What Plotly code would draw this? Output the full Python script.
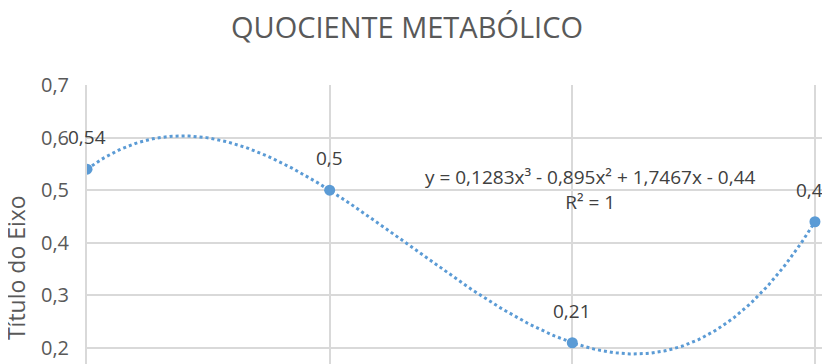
import numpy as np
import plotly.graph_objects as go

# Data
x_vals = [1, 2, 3, 4]
y_vals = [0.54, 0.5, 0.21, 0.44]
point_labels = ["0,54", "0,5", "0,21", "0,44"]
title_text = "QUOCIENTE METABÓLICO"
y_title = "Título do Eixo"
equation_text = "y = 0,1283x³ - 0,895x² + 1,7467x - 0,44<br>R² = 1"
y_ticks = [0.2, 0.3, 0.4, 0.5, 0.6, 0.7]

BLUE = "#5B9BD5"
GRID = "#D9D9D9"
TXT = "#595959"
FONT = "Open Sans"

# Polynomial (order 3) trendline fitted to the data
coefs = np.polyfit(x_vals, y_vals, 3)
xt = np.linspace(min(x_vals), max(x_vals), 300)
yt = np.polyval(coefs, xt)

fig = go.Figure()
fig.add_trace(go.Scatter(x=xt, y=yt, mode="lines",
                         line=dict(color=BLUE, width=3, dash="dot"),
                         hoverinfo="skip", showlegend=False))
fig.add_trace(go.Scatter(x=x_vals, y=y_vals, mode="markers",
                         marker=dict(color=BLUE, size=11),
                         showlegend=False))

for xv, yv, lab in zip(x_vals, y_vals, point_labels):
    fig.add_annotation(x=xv, y=yv, text=lab, showarrow=False,
                       yshift=32, font=dict(family=FONT, size=19, color="#404040"))

fig.add_annotation(x=3.073, y=0.502, xref="x", yref="y", text=equation_text,
                   showarrow=False, align="center", xanchor="center", yanchor="middle",
                   font=dict(family=FONT, size=19, color="#404040"))

fig.add_annotation(x=0, xref="paper", xshift=-71, xanchor="center",
                   y=0.352, yref="y", yanchor="middle",
                   text=y_title, textangle=-90, showarrow=False,
                   font=dict(family=FONT, size=23, color=TXT))

fig.update_layout(
    width=830, height=364,
    margin=dict(l=79, r=8, t=77, b=8, autoexpand=False),
    paper_bgcolor="white", plot_bgcolor="white",
    separators=",.",
    title=dict(text=title_text, x=399/830, xref="container", xanchor="center",
               y=1 - 20/364, yref="container", yanchor="middle",
               font=dict(family=FONT, size=29, color=TXT)),
    xaxis=dict(range=[1, 4.062], dtick=1, tick0=1, showgrid=True,
               gridcolor=GRID, gridwidth=2, showticklabels=False,
               zeroline=False, showline=False, automargin=False),
    yaxis=dict(range=[0.1696, 0.7], tickvals=y_ticks, tickformat=".1f",
               showgrid=True, gridcolor=GRID, gridwidth=2, zeroline=False,
               showline=True, linecolor=GRID, linewidth=2,
               ticks="", ticklabelstandoff=12, automargin=False,
               tickfont=dict(family=FONT, size=20, color=TXT)),
)

fig.write_html("out.html")
